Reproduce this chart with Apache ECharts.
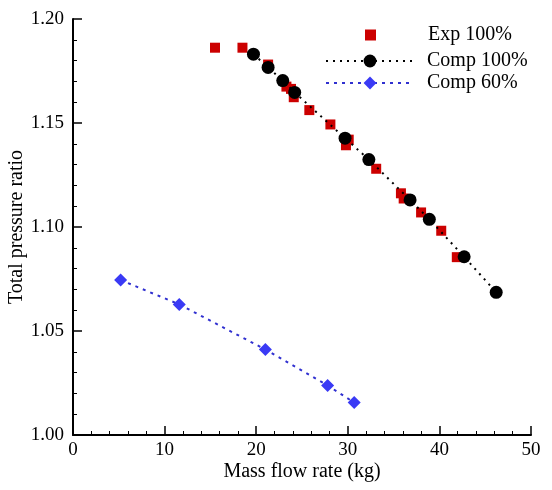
<!DOCTYPE html>
<html>
<head>
<meta charset="utf-8">
<script src="https://cdn.jsdelivr.net/npm/echarts@6/dist/echarts.min.js"></script>
<style>
html,body{margin:0;padding:0;background:#fff;}
#c{width:552px;height:490px;}
</style>
</head>
<body>
<div id="c"></div>
<script>
var expX = [15.5, 18.5, 21.3, 23.3, 23.8, 24.1, 25.8, 28.1, 30.1, 29.8, 33.1, 35.8, 36.1, 38.0, 40.2, 41.9];
var expY = [1.1862, 1.1862, 1.1781, 1.1675, 1.1664, 1.1624, 1.1562, 1.1493, 1.1420, 1.1393, 1.1280, 1.1162, 1.1137, 1.1070, 1.0982, 1.0855];
var comp100X = [19.7, 21.3, 22.9, 24.2, 29.7, 32.3, 36.8, 38.9, 42.7, 46.2];
var comp100Y = [1.1831, 1.1767, 1.1704, 1.1647, 1.1427, 1.1324, 1.1130, 1.1037, 1.0857, 1.0686];
var comp60X = [5.2, 11.6, 21.0, 27.8, 30.7];
var comp60Y = [1.0745, 1.0628, 1.0411, 1.0238, 1.0156];
var xTicks = [0, 10, 20, 30, 40, 50];
var yTicks = [1.00, 1.05, 1.10, 1.15, 1.20];

function pairs(xs, ys){ return xs.map(function(x,i){ return [x, ys[i]]; }); }

var font = 'Liberation Serif';
var chart = echarts.init(document.getElementById('c'), null, {renderer:'canvas'});
chart.setOption({
  animation:false,
  backgroundColor:'#fff',
  grid:{left:73, right:21, top:19, bottom:55, containLabel:false, outerBoundsMode:'none'},
  xAxis:{
    type:'value', min:xTicks[0], max:xTicks[xTicks.length-1], interval:10,
    name:'Mass flow rate (kg)', nameLocation:'middle', nameGap:27, nameMoveOverlap:false,
    nameTextStyle:{fontFamily:font, fontSize:20, color:'#000'},
    axisLine:{show:true, lineStyle:{color:'#000', width:2}},
    axisTick:{show:true, inside:true, length:9, lineStyle:{color:'#000', width:1.5}},
    minorTick:{show:true, splitNumber:5, length:4, lineStyle:{color:'#000', width:1}},
    axisLabel:{fontFamily:font, fontSize:19, color:'#000', margin:6},
    splitLine:{show:false}
  },
  yAxis:{
    type:'value', min:yTicks[0], max:yTicks[yTicks.length-1], interval:0.05,
    name:'Total pressure ratio', nameLocation:'middle', nameGap:46, nameRotate:90, nameMoveOverlap:false,
    nameTextStyle:{fontFamily:font, fontSize:20, color:'#000'},
    axisLine:{show:true, lineStyle:{color:'#000', width:2}},
    axisTick:{show:true, inside:true, length:9, lineStyle:{color:'#000', width:1.5}},
    minorTick:{show:true, splitNumber:5, length:4, lineStyle:{color:'#000', width:1}},
    axisLabel:{fontFamily:font, fontSize:19, color:'#000', margin:9, formatter:function(v){return v.toFixed(2);}},
    splitLine:{show:false}
  },
  legend:[
    {data:['Exp 100%'], left:360, top:20, itemWidth:11, itemHeight:11,
     textStyle:{fontFamily:font, fontSize:20, color:'#000', padding:[0,0,0,47]}},
    {data:['Comp 100%','Comp 60%'], orient:'vertical', left:320, top:46, itemWidth:88, itemHeight:16, itemGap:2,
     textStyle:{fontFamily:font, fontSize:20, color:'#000', padding:[0,0,0,8]}}
  ],
  series:[
    {name:'Exp 100%', type:'scatter', data:pairs(expX, expY), symbol:'rect', symbolSize:10,
     itemStyle:{color:'#cc0000', opacity:1}, z:2},
    {name:'Comp 100%', type:'line', data:pairs(comp100X, comp100Y), symbol:'circle', symbolSize:13,
     itemStyle:{color:'#000'}, lineStyle:{color:'#000', width:2, type:[2,5]}, z:3},
    {name:'Comp 60%', type:'line', data:pairs(comp60X, comp60Y), symbol:'diamond', symbolSize:13,
     itemStyle:{color:'#3a3af5'}, lineStyle:{color:'#3030d0', width:2, type:[3,5]}, z:3}
  ]
});
</script>
</body>
</html>
